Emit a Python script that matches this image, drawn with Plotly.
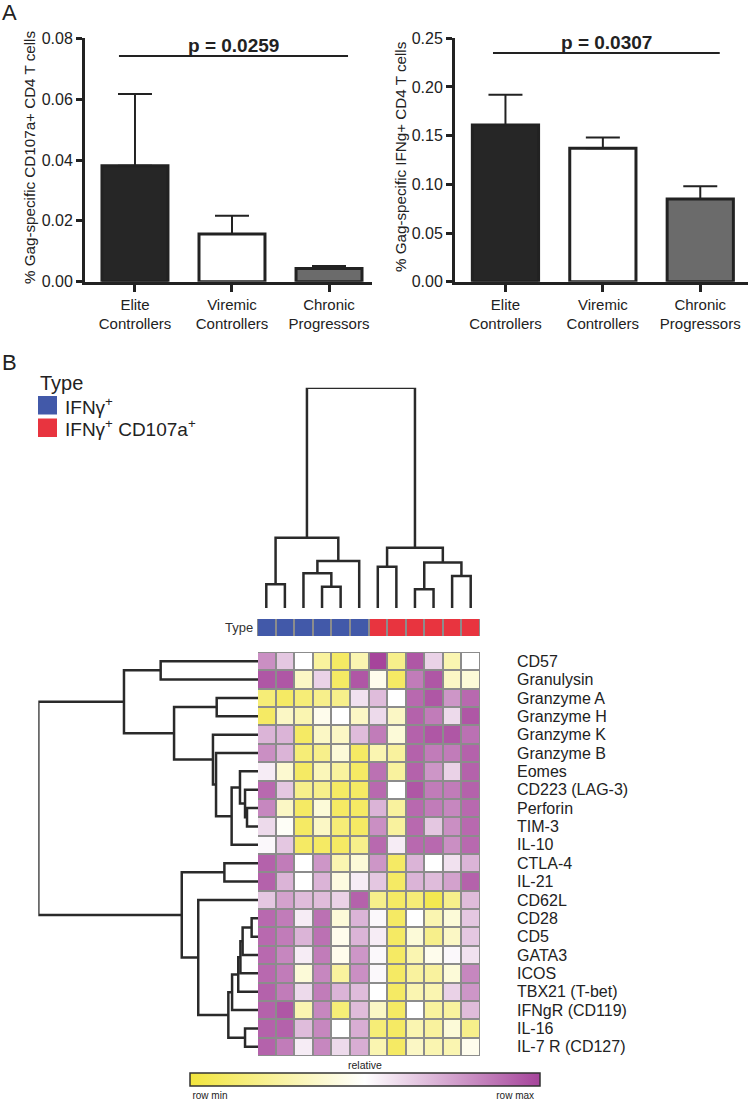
import plotly.graph_objects as go

W, H = 750, 1104
FONT = "Liberation Sans, Arial, sans-serif"
INK = "#222222"

# ---------------- Panel A data ----------------
groups = ["Elite<br>Controllers", "Viremic<br>Controllers", "Chronic<br>Progressors"]
cd107_mean = [0.0381, 0.0157, 0.0043]
cd107_sem = [0.0236, 0.0060, 0.0009]
ifng_mean = [0.161, 0.137, 0.085]
ifng_sem = [0.031, 0.011, 0.013]
bar_colors = ["#262626", "#ffffff", "#6b6b6b"]
p_labels = ["p = 0.0259", "p = 0.0307"]
p_span1 = [-0.165, 2.196]
p_level1 = 0.0742
p_span2 = [-0.128, 2.20]
p_level2 = 0.235
ytitle1 = "% Gag-specific CD107a+ CD4 T cells"
ytitle2 = "% Gag-specific IFNg+ CD4 T cells"

# ---------------- Panel B data ----------------
row_labels = ["CD57", "Granulysin", "Granzyme A", "Granzyme H", "Granzyme K",
              "Granzyme B", "Eomes", "CD223 (LAG-3)", "Perforin", "TIM-3", "IL-10",
              "CTLA-4", "IL-21", "CD62L", "CD28", "CD5", "GATA3", "ICOS",
              "TBX21 (T-bet)", "IFNgR (CD119)", "IL-16", "IL-7 R (CD127)"]
col_types = [0, 0, 0, 0, 0, 0, 1, 1, 1, 1, 1, 1]
type_names = ["IFNγ<sup>+</sup>", "IFNγ<sup>+</sup> CD107a<sup>+</sup>"]
type_colors = ["#4259A9", "#E8343F"]

# relative expression (0 = row min, 1 = row max)
heat = [
    [0.80, 0.65, 0.50, 0.25, 0.10, 0.30, 1.00, 0.20, 0.95, 0.62, 0.30, 0.50],
    [0.95, 0.95, 0.35, 0.62, 0.10, 0.95, 0.45, 0.10, 0.85, 0.95, 0.35, 0.40],
    [0.15, 0.10, 0.15, 0.20, 0.20, 0.58, 0.68, 0.50, 0.90, 0.95, 0.78, 0.90],
    [0.10, 0.35, 0.30, 0.45, 0.50, 0.35, 0.60, 0.35, 0.92, 0.85, 0.60, 0.95],
    [0.70, 0.70, 0.10, 0.35, 0.35, 0.68, 0.85, 0.40, 0.92, 0.95, 0.95, 0.88],
    [0.80, 0.70, 0.15, 0.20, 0.40, 0.10, 0.30, 0.25, 0.92, 0.85, 0.85, 0.92],
    [0.55, 0.38, 0.10, 0.32, 0.25, 0.10, 0.88, 0.25, 0.92, 0.78, 0.62, 0.92],
    [0.90, 0.65, 0.20, 0.20, 0.10, 0.10, 0.90, 0.50, 0.95, 0.85, 0.85, 0.92],
    [0.82, 0.35, 0.10, 0.40, 0.10, 0.10, 0.70, 0.25, 0.90, 0.85, 0.82, 0.90],
    [0.60, 0.48, 0.10, 0.35, 0.15, 0.10, 0.80, 0.25, 0.90, 0.65, 0.80, 0.90],
    [0.52, 0.65, 0.10, 0.10, 0.10, 0.20, 0.90, 0.55, 0.90, 0.90, 0.80, 0.90],
    [0.92, 0.85, 0.50, 0.78, 0.30, 0.40, 0.78, 0.10, 0.70, 0.50, 0.58, 0.70],
    [0.92, 0.70, 0.50, 0.70, 0.42, 0.55, 0.65, 0.10, 0.70, 0.68, 0.75, 0.92],
    [0.65, 0.75, 0.68, 0.68, 0.62, 0.92, 0.20, 0.10, 0.15, 0.05, 0.20, 0.68],
    [0.90, 0.85, 0.55, 0.88, 0.40, 0.70, 0.52, 0.10, 0.50, 0.30, 0.40, 0.65],
    [0.90, 0.85, 0.70, 0.88, 0.45, 0.70, 0.55, 0.10, 0.40, 0.20, 0.35, 0.65],
    [0.90, 0.82, 0.55, 0.85, 0.45, 0.78, 0.52, 0.10, 0.30, 0.45, 0.52, 0.58],
    [0.90, 0.85, 0.40, 0.82, 0.25, 0.80, 0.52, 0.10, 0.25, 0.25, 0.40, 0.82],
    [0.92, 0.85, 0.60, 0.85, 0.70, 0.68, 0.50, 0.10, 0.30, 0.30, 0.62, 0.78],
    [0.92, 0.95, 0.30, 0.82, 0.15, 0.68, 0.35, 0.10, 0.50, 0.25, 0.25, 0.68],
    [0.92, 0.92, 0.68, 0.82, 0.50, 0.72, 0.15, 0.10, 0.30, 0.25, 0.40, 0.20],
    [0.92, 0.85, 0.55, 0.82, 0.60, 0.72, 0.30, 0.10, 0.35, 0.30, 0.30, 0.45],
]

# hierarchical clustering (child a, child b, distance); nodes numbered n, n+1, ...
col_linkage = [
    (0, 1, 1.08), (3, 4, 0.97), (2, 13, 1.58), (14, 5, 2.13), (12, 15, 3.19),
    (6, 7, 1.87), (8, 9, 0.85), (10, 11, 1.45), (18, 19, 2.06), (17, 20, 2.74),
    (16, 21, 10.0),
]
row_linkage = [
    (0, 1, 4.43), (2, 3, 1.88), (8, 9, 0.50), (7, 24, 0.59), (6, 25, 0.82),
    (26, 10, 1.20), (5, 27, 1.91), (4, 28, 2.05), (23, 29, 3.82), (22, 30, 6.10),
    (11, 12, 1.53), (14, 15, 0.29), (33, 16, 0.70), (34, 17, 0.80), (35, 18, 0.90),
    (36, 19, 1.18), (20, 21, 0.59), (37, 38, 1.35), (13, 39, 2.72), (32, 40, 3.47),
    (31, 41, 10.0),
]

heat_colorscale = [[0.0, "#F2E53D"], [0.5, "#FFFFFF"], [1.0, "#A6449B"]]


def fx(x):
    return x / W


def fy(y):
    return 1 - y / H


def dendro(linkage, n):
    pos = {i: float(i) for i in range(n)}
    hgt = {i: 0.0 for i in range(n)}
    ps, hs = [], []
    for k, (a, b, h) in enumerate(linkage):
        pa, pb = pos[a], pos[b]
        ps += [pa, pa, pb, pb, None]
        hs += [hgt[a], h, h, hgt[b], None]
        pos[n + k] = (pa + pb) / 2
        hgt[n + k] = h
    return ps, hs


fig = go.Figure()

# ---------------- bars ----------------
for i, (means, sems, xa, ya) in enumerate([(cd107_mean, cd107_sem, "x", "y"),
                                           (ifng_mean, ifng_sem, "x2", "y2")]):
    fig.add_trace(go.Bar(
        x=list(range(len(groups))), y=means, width=0.68,
        marker=dict(color=bar_colors, line=dict(color=INK, width=3)),
        error_y=dict(type="data", array=sems, arrayminus=[0] * len(sems), symmetric=False,
                     color=INK, thickness=2, width=17),
        xaxis=xa, yaxis=ya, showlegend=False, hoverinfo="skip"))

# ---------------- heatmap ----------------
ncol, nrow = len(col_types), len(row_labels)
fig.add_trace(go.Heatmap(
    z=heat, x=list(range(ncol)), y=list(range(nrow)), zmin=0, zmax=1,
    colorscale=heat_colorscale, xgap=2, ygap=2, xaxis="x3", yaxis="y3",
    hoverinfo="skip",
    colorbar=dict(orientation="h", x=fx(365), xanchor="center", y=fy(1073), yanchor="top",
                  len=350, lenmode="pixels", thickness=13, xpad=0, ypad=0,
                  outlinecolor="#333", outlinewidth=1.5,
                  tickvals=[0.057, 0.929], ticktext=["row min", "row max"], ticks="",
                  tickfont=dict(size=10, color=INK, family=FONT))))

fig.add_trace(go.Heatmap(
    z=[col_types], x=list(range(ncol)), y=[0], zmin=0, zmax=1,
    colorscale=[[0, type_colors[0]], [0.5, type_colors[0]], [0.5, type_colors[1]], [1, type_colors[1]]],
    xgap=2, ygap=0, showscale=False, xaxis="x4", yaxis="y4", hoverinfo="skip"))

# ---------------- dendrograms ----------------
cp, ch = dendro(col_linkage, ncol)
fig.add_trace(go.Scatter(x=cp, y=ch, mode="lines", line=dict(color="#2a2a2a", width=2.5),
                         xaxis="x5", yaxis="y5", showlegend=False, hoverinfo="skip",
                         cliponaxis=False))
rp, rh = dendro(row_linkage, nrow)
fig.add_trace(go.Scatter(x=rh, y=rp, mode="lines", line=dict(color="#2a2a2a", width=2.5),
                         xaxis="x6", yaxis="y6", showlegend=False, hoverinfo="skip",
                         cliponaxis=False))

# ---------------- layout ----------------
bar_top, bar_bot = 38.3, 281.7
common_x = dict(showline=True, linewidth=3, linecolor=INK, ticks="outside", ticklen=7,
                tickwidth=3, tickcolor=INK, showgrid=False, zeroline=False,
                tickvals=list(range(len(groups))), ticktext=groups,
                tickfont=dict(size=15, color=INK, family=FONT), automargin=False)
common_y = dict(showline=True, linewidth=3, linecolor=INK, ticks="outside", ticklen=6,
                tickwidth=3, tickcolor=INK, showgrid=False, zeroline=False,
                tickformat=".2f", tickfont=dict(size=16, color=INK, family=FONT),
                automargin=False)

hm_x = [fx(257), fx(480)]
hm_y = [fy(1056), fy(652)]
hidden = dict(visible=False, showgrid=False, zeroline=False, automargin=False)

fig.update_layout(
    width=W, height=H, margin=dict(l=0, r=0, t=0, b=0),
    template="none", paper_bgcolor="white", plot_bgcolor="white",
    font=dict(family=FONT, color=INK), showlegend=False,
    xaxis=dict(domain=[fx(85), fx(372)], range=[-0.515, 2.443], anchor="y", **common_x),
    yaxis=dict(domain=[fy(bar_bot), fy(bar_top)], range=[0, 0.08], dtick=0.02, anchor="x", **common_y),
    xaxis2=dict(domain=[fx(455), fx(748)], range=[-0.518, 2.49], anchor="y2", **common_x),
    yaxis2=dict(domain=[fy(bar_bot), fy(bar_top)], range=[0, 0.25], dtick=0.05, anchor="x2", **common_y),
    xaxis3=dict(domain=hm_x, range=[-0.5, ncol - 0.5], anchor="y3", **hidden),
    yaxis3=dict(domain=hm_y, range=[nrow - 0.5, -0.5], anchor="x3", side="right",
                showgrid=False, zeroline=False, showline=False, ticks="",
                tickvals=list(range(nrow)), ticktext=row_labels, ticklabelstandoff=36,
                tickfont=dict(size=16, color=INK, family=FONT), automargin=False),
    xaxis4=dict(domain=hm_x, range=[-0.5, ncol - 0.5], anchor="y4", **hidden),
    yaxis4=dict(domain=[fy(636), fy(619)], range=[-0.5, 0.5], anchor="x4", **hidden),
    xaxis5=dict(domain=hm_x, range=[-0.5, ncol - 0.5], anchor="y5", **hidden),
    yaxis5=dict(domain=[fy(608), fy(387.7)], range=[0, 10], anchor="x5", **hidden),
    xaxis6=dict(domain=[fx(38.3), fx(258)], range=[10, 0], anchor="y6", **hidden),
    yaxis6=dict(domain=hm_y, range=[nrow - 0.5, -0.5], anchor="x6", **hidden),
)

shapes = []
annotations = []


def note(x, y, text, size, xanchor="center", yanchor="middle", angle=0, color=INK, ref="paper"):
    annotations.append(dict(xref=ref, yref=ref, x=x, y=y, text=text, textangle=angle,
                            xanchor=xanchor, yanchor=yanchor, showarrow=False,
                            font=dict(size=size, color=color, family=FONT)))


# grey grid behind heatmap and type bar
shapes.append(dict(type="rect", xref="x3", yref="y3", x0=-0.6, x1=ncol - 0.4,
                   y0=-0.6, y1=nrow - 0.4, fillcolor="#8c8c8c", line=dict(width=0), layer="below"))
shapes.append(dict(type="rect", xref="x4", yref="y4", x0=-0.6, x1=ncol - 0.4,
                   y0=-0.62, y1=0.62, fillcolor="#8c8c8c", line=dict(width=0), layer="below"))

# significance brackets
for (xa, ya, span, lvl, lab) in [("x", "y", p_span1, p_level1, p_labels[0]),
                                 ("x2", "y2", p_span2, p_level2, p_labels[1])]:
    shapes.append(dict(type="line", xref=xa, yref=ya, x0=span[0], x1=span[1], y0=lvl, y1=lvl,
                       line=dict(color=INK, width=2)))
    annotations.append(dict(xref=xa, yref=ya, x=(span[0] + span[1]) / 2, y=lvl,
                            text="<b>" + lab + "</b>", showarrow=False,
                            xanchor="center", yanchor="bottom", yshift=-2,
                            font=dict(size=19, color=INK, family=FONT)))

# y-axis titles
note(fx(30), fy(158), ytitle1, 15.2, angle=-90)
note(fx(400), fy(157), ytitle2, 15.2, angle=-90)

# panel letters
note(fx(0), fy(13), "A", 22, xanchor="left")
note(fx(0), fy(362), "B", 22, xanchor="left")

# legend for type
note(fx(38), fy(383), "Type", 20, xanchor="left")
for i, (nm, col) in enumerate(zip(type_names, type_colors)):
    top = 396 + i * 22.5
    shapes.append(dict(type="rect", xref="paper", yref="paper", x0=fx(38), x1=fx(57),
                       y0=fy(top + 18.5), y1=fy(top), fillcolor=col, line=dict(width=0)))
    note(fx(63), fy(top + 9.5), nm, 19, xanchor="left")

# "Type" label beside annotation bar
note(fx(255), fy(627.5), "Type", 13, xanchor="right", color="#333")
# colorbar title
note(fx(365), fy(1065), "relative", 10.5)

fig.update_layout(shapes=shapes, annotations=annotations)
fig.write_html("out.html", config={"displayModeBar": False},
               post_script="document.body.style.margin='0';")
